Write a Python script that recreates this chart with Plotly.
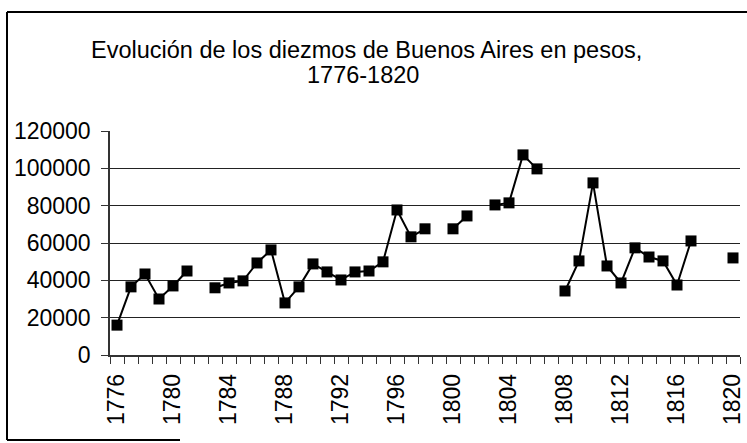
import plotly.graph_objects as go

years = list(range(1776, 1821))
values = [16000, 36500, 43400, 30000, 37000, 45000, None, 36000, 38600, 39700,
          49300, 56300, 27900, 36500, 48800, 44500, 40200, 44500, 45000, 49900,
          77700, 63300, 67600, None, 67600, 74500, None, 80400, 81500, 107200,
          99700, None, 34300, 50400, 92200, 47700, 38600, 57400, 52500, 50400,
          37500, 61100, None, None, 52000]
tick_years = list(range(1776, 1821, 4))
y_ticks = [0, 20000, 40000, 60000, 80000, 100000, 120000]
title_line1 = "Evolución de los diezmos de Buenos Aires en pesos,"
title_line2 = "1776-1820"

FONT = "Liberation Sans, Arial, sans-serif"
W, H = 747, 443
ML, MR, MT, MB = 110, 7, 131, 88
pw, ph = W - ML - MR, H - MT - MB


def px(x):
    return (x - ML) / pw


def py(y):
    return (H - MB - y) / ph


fig = go.Figure()
fig.add_trace(go.Scatter(
    x=years, y=values, mode="lines+markers", connectgaps=False,
    line=dict(color="black", width=2),
    marker=dict(symbol="square", size=11, color="black"),
    showlegend=False, hoverinfo="x+y",
))

fig.update_layout(
    width=W, height=H,
    margin=dict(l=ML, r=MR, t=MT, b=MB, autoexpand=False),
    paper_bgcolor="white", plot_bgcolor="white",
    font=dict(family=FONT, color="black"),
    xaxis=dict(
        range=[1775.5, 1820.5], tickvals=tick_years,
        ticktext=[str(t) for t in tick_years], tickangle=-90,
        tickfont=dict(size=23, family=FONT, color="black"),
        showgrid=False, zeroline=False, showline=True, linecolor="#333", linewidth=1.5,
        ticks="", ticklabelstandoff=8, automargin=False,
        minor=dict(tickvals=[y + 0.5 for y in range(1775, 1821)], ticks="outside",
                   ticklen=7, tickcolor="#333", tickwidth=1.2, showgrid=False),
    ),
    yaxis=dict(
        range=[0, 120000], tickvals=y_ticks, ticktext=[str(v) for v in y_ticks],
        tickfont=dict(size=23, family=FONT, color="black"),
        showgrid=True, gridcolor="#222", gridwidth=1.1, zeroline=False,
        showline=True, linecolor="#333", linewidth=1.5, automargin=False,
        ticks="outside", ticklen=7, tickcolor="#333", tickwidth=1.2,
        ticklabelstandoff=6,
    ),
    annotations=[
        dict(text=title_line1, xref="paper", yref="paper", x=px(366), xanchor="center",
             y=py(65), yanchor="bottom", showarrow=False,
             font=dict(size=23.5, family=FONT, color="black")),
        dict(text=title_line2, xref="paper", yref="paper", x=px(363), xanchor="center",
             y=py(90), yanchor="bottom", showarrow=False,
             font=dict(size=23.5, family=FONT, color="black")),
    ],
    shapes=[
        dict(type="line", xref="paper", yref="paper", x0=px(7), x1=px(747), y0=py(12), y1=py(12),
             line=dict(color="black", width=2)),
        dict(type="line", xref="paper", yref="paper", x0=px(7), x1=px(7), y0=py(12), y1=py(440),
             line=dict(color="black", width=2)),
        dict(type="line", xref="paper", yref="paper", x0=px(7), x1=px(180), y0=py(440), y1=py(440),
             line=dict(color="black", width=2)),
    ],
)

fig.write_html("out.html", config={"displayModeBar": False},
               post_script="document.body.style.margin='0';")
